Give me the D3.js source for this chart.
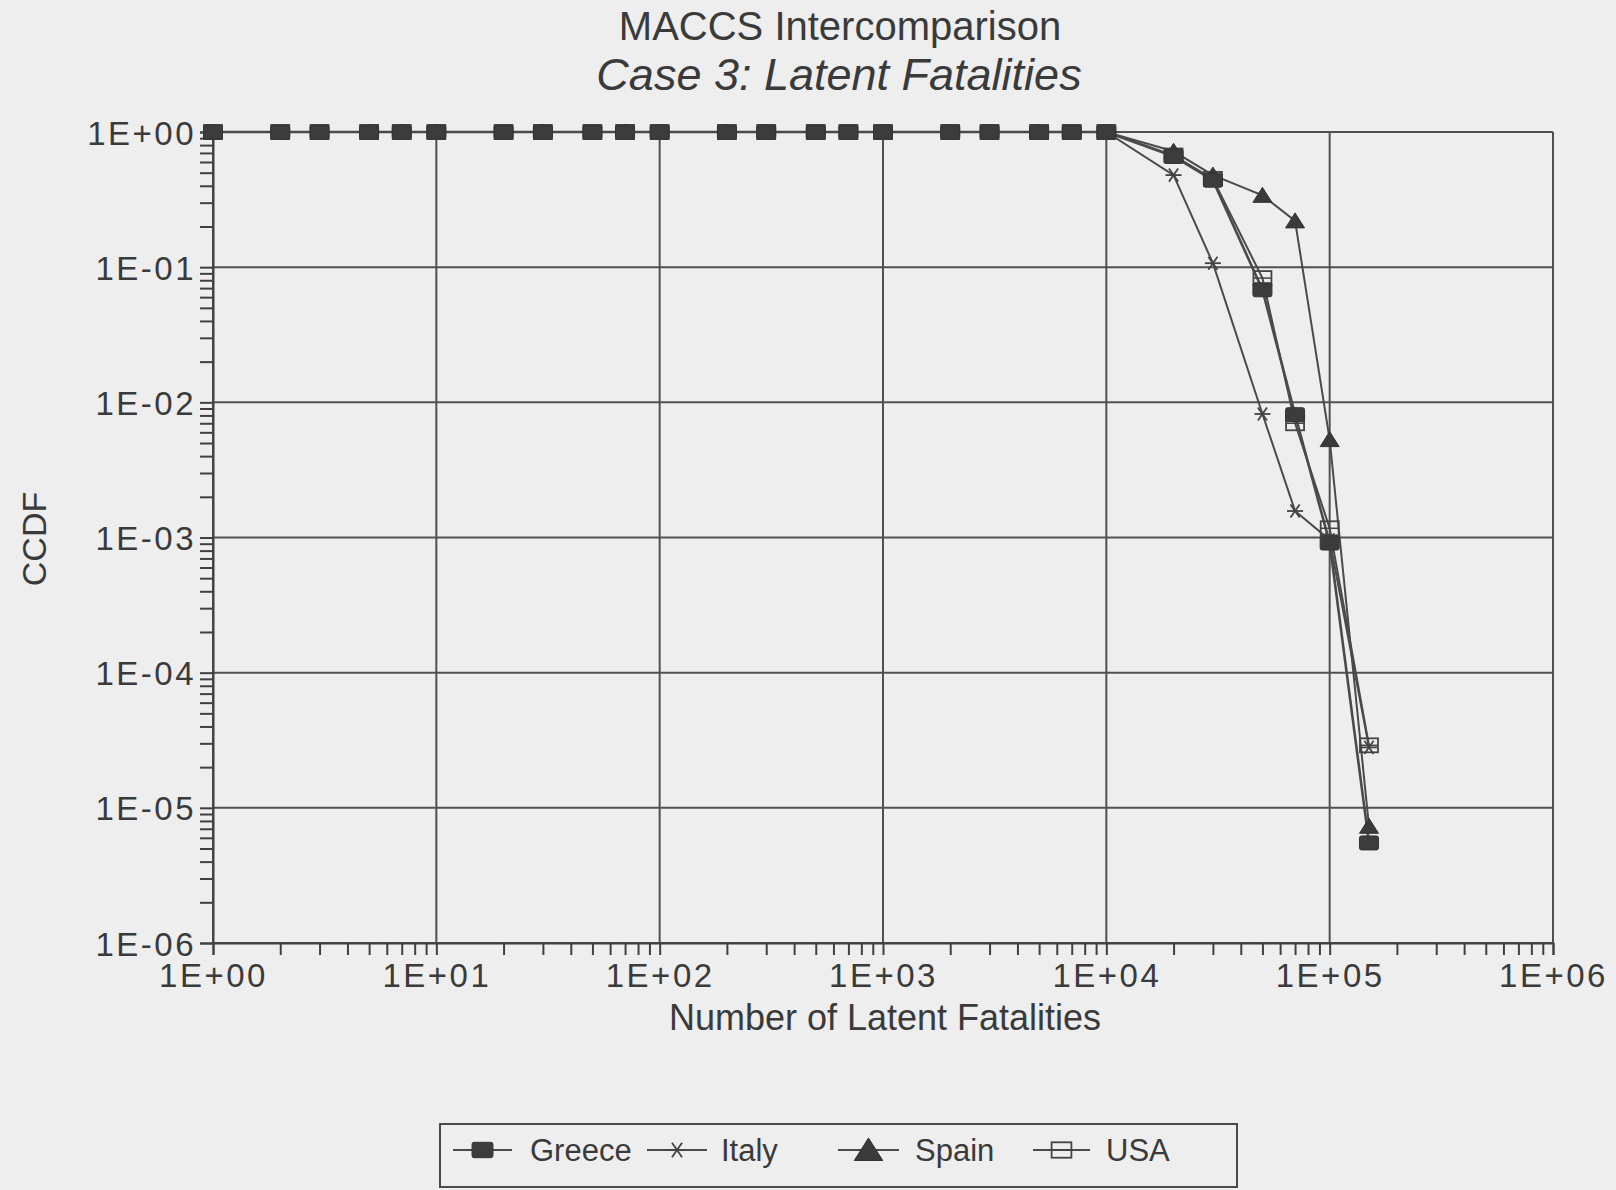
<!DOCTYPE html>
<html>
<head>
<meta charset="utf-8">
<script src="https://cdn.jsdelivr.net/npm/d3@7"></script>
<style>
  html, body { margin: 0; padding: 0; background: #eeeeee; }
  svg { display: block; }
  text { font-family: "Liberation Sans", Arial, Helvetica, sans-serif; fill: #3a3a3a; }
</style>
</head>
<body>
<svg id="chart" width="1616" height="1190"></svg>
<script>
// Number of latent fatalities (x) at which the CCDF was evaluated
const fatalities = [1, 2, 3, 5, 7, 10, 20, 30, 50, 70, 100, 200, 300, 500, 700,
  1000, 2000, 3000, 5000, 7000, 10000, 20000, 30000, 50000, 70000, 100000, 150000];

// CCDF per country
const greece = [1, 1, 1, 1, 1, 1, 1, 1, 1, 1, 1, 1, 1, 1, 1, 1, 1, 1, 1, 1, 1,
  0.66, 0.44, 0.068, 0.0081, 0.00091, 5.5e-6];
const italy = [1, 1, 1, 1, 1, 1, 1, 1, 1, 1, 1, 1, 1, 1, 1, 1, 1, 1, 1, 1, 1,
  0.48, 0.107, 0.0082, 0.00157, 0.00096, 2.8e-5];
const spain = [1, 1, 1, 1, 1, 1, 1, 1, 1, 1, 1, 1, 1, 1, 1, 1, 1, 1, 1, 1, 1,
  0.72, 0.48, 0.34, 0.22, 0.0053, 7.3e-6];
const usa = [1, 1, 1, 1, 1, 1, 1, 1, 1, 1, 1, 1, 1, 1, 1, 1, 1, 1, 1, 1, 1,
  0.67, 0.45, 0.083, 0.0070, 0.00117, 2.9e-5];

const seriesNames = ["Greece", "Italy", "Spain", "USA"];

// Axis decades and their labels
const xDecades = [1, 10, 100, 1000, 10000, 100000, 1000000];
const xTickLabels = ["1E+00", "1E+01", "1E+02", "1E+03", "1E+04", "1E+05", "1E+06"];
const yDecades = [1, 0.1, 0.01, 0.001, 1e-4, 1e-5, 1e-6];
const yTickLabels = ["1E+00", "1E-01", "1E-02", "1E-03", "1E-04", "1E-05", "1E-06"];

const ink = "#3a3a3a";
const lineInk = "#4a4a4a";

const svg = d3.select("#chart");
svg.append("rect").attr("width", 1616).attr("height", 1190).attr("fill", "#eeeeee");

const plot = { left: 213, right: 1553, top: 132, bottom: 943 };

const x = d3.scaleLog().domain([1, 1e6]).range([plot.left, plot.right]);
const y = d3.scaleLog().domain([1e-6, 1]).range([plot.bottom, plot.top]);

// Titles
svg.append("text").attr("x", 840).attr("y", 40).attr("text-anchor", "middle")
  .style("font-size", "40px").text("MACCS Intercomparison");
svg.append("text").attr("x", 839).attr("y", 90).attr("text-anchor", "middle")
  .style("font-size", "45px").style("font-style", "italic").text("Case 3: Latent Fatalities");

// Grid lines at every decade
const grid = svg.append("g");
grid.selectAll("line.h").data(yDecades).join("line")
  .attr("x1", plot.left).attr("x2", plot.right)
  .attr("y1", d => y(d)).attr("y2", d => y(d))
  .attr("stroke", "#505050").attr("stroke-width", 2);
grid.selectAll("line.v").data(xDecades).join("line")
  .attr("y1", plot.top).attr("y2", plot.bottom)
  .attr("x1", d => x(d)).attr("x2", d => x(d))
  .attr("stroke", "#505050").attr("stroke-width", 2);

// Axes with minor ticks
function decadeLabel(decades, labels) {
  return d => {
    const i = decades.findIndex(v => Math.abs(Math.log10(v) - Math.log10(d)) < 1e-9);
    return i >= 0 ? labels[i] : "";
  };
}
const xAllTicks = x.ticks();
const yAllTicks = y.ticks();

const xAxis = svg.append("g").attr("transform", `translate(0,${plot.bottom})`)
  .call(d3.axisBottom(x).tickValues(xAllTicks).tickSize(12).tickPadding(8)
    .tickFormat(decadeLabel(xDecades, xTickLabels)));
const yAxis = svg.append("g").attr("transform", `translate(${plot.left},0)`)
  .call(d3.axisLeft(y).tickValues(yAllTicks).tickSize(13).tickPadding(5)
    .tickFormat(decadeLabel(yDecades, yTickLabels)));

[xAxis, yAxis].forEach(a => {
  a.select(".domain").attr("stroke", "#404040").attr("stroke-width", 2);
  a.selectAll(".tick line").attr("stroke", "#404040").attr("stroke-width", 2);
  a.selectAll(".tick text").attr("fill", ink).style("font-size", "33px")
    .style("font-family", "'Liberation Sans', Arial, sans-serif")
    .style("letter-spacing", "2.5px");
});
xAxis.selectAll(".tick text").attr("dy", null).attr("y", 44);
yAxis.selectAll(".tick text").attr("dy", null).attr("y", 12).attr("x", -17);

// Axis titles
svg.append("text").attr("x", 885).attr("y", 1030).attr("text-anchor", "middle")
  .style("font-size", "36px").text("Number of Latent Fatalities");
svg.append("text").attr("transform", "translate(46,539) rotate(-90)")
  .attr("text-anchor", "middle").style("font-size", "34px").text("CCDF");

// Marker drawing helpers
function drawMarker(g, name, cx, cy, s) {
  if (name === "Greece") {
    g.append("rect").attr("x", cx - 9.5 * s).attr("y", cy - 7 * s)
      .attr("width", 19 * s).attr("height", 14 * s).attr("rx", 2)
      .attr("fill", "#3c3c3c").attr("stroke", "#333").attr("stroke-width", 1);
  } else if (name === "Italy") {
    const r = 8 * s;
    [0, 55, -55].forEach(a => {
      const rad = a * Math.PI / 180;
      g.append("line")
        .attr("x1", cx - r * Math.cos(rad)).attr("y1", cy - r * Math.sin(rad))
        .attr("x2", cx + r * Math.cos(rad)).attr("y2", cy + r * Math.sin(rad))
        .attr("stroke", "#444").attr("stroke-width", 1.8);
    });
  } else if (name === "Spain") {
    g.append("path")
      .attr("d", `M${cx},${cy - 8 * s}L${cx + 9.5 * s},${cy + 7 * s}L${cx - 9.5 * s},${cy + 7 * s}Z`)
      .attr("fill", "#3a3a3a").attr("stroke", "#333").attr("stroke-width", 1);
  } else {
    g.append("rect").attr("x", cx - 9 * s).attr("y", cy - 7 * s)
      .attr("width", 18 * s).attr("height", 14 * s)
      .attr("fill", "none").attr("stroke", "#444").attr("stroke-width", 1.8);
    g.append("line").attr("x1", cx - 9 * s).attr("x2", cx + 9 * s)
      .attr("y1", cy).attr("y2", cy).attr("stroke", "#444").attr("stroke-width", 1.5);
  }
}

const seriesData = { Greece: greece, Italy: italy, Spain: spain, USA: usa };
const lineWidth = { Greece: 2.6, Italy: 2, Spain: 2, USA: 2 };

const line = d3.line().x(d => x(d[0])).y(d => y(d[1]));

// Draw lowest layer first so Greece ends on top
const drawOrder = ["USA", "Italy", "Spain", "Greece"];
const seriesG = svg.append("g");
drawOrder.forEach(name => {
  const pts = fatalities.map((f, i) => [f, seriesData[name][i]]);
  seriesG.append("path").datum(pts).attr("d", line)
    .attr("fill", "none").attr("stroke", lineInk).attr("stroke-width", lineWidth[name]);
});
drawOrder.forEach(name => {
  const g = seriesG.append("g");
  fatalities.forEach((f, i) => drawMarker(g, name, x(f), y(seriesData[name][i]), 1));
});

// Legend
const legend = svg.append("g");
legend.append("rect").attr("x", 440).attr("y", 1124).attr("width", 797).attr("height", 63)
  .attr("fill", "none").attr("stroke", "#4a4a4a").attr("stroke-width", 2);
const legendItems = [
  { name: "Greece", x1: 453, x2: 512, tx: 530 },
  { name: "Italy", x1: 647, x2: 707, tx: 721 },
  { name: "Spain", x1: 838, x2: 899, tx: 915 },
  { name: "USA", x1: 1033, x2: 1090, tx: 1106 }
];
legendItems.forEach(it => {
  const ly = 1150;
  legend.append("line").attr("x1", it.x1).attr("x2", it.x2).attr("y1", ly).attr("y2", ly)
    .attr("stroke", lineInk).attr("stroke-width", 2);
  drawMarker(legend, it.name, (it.x1 + it.x2) / 2, ly, it.name === "Spain" ? 1.5 : 1.1);
  legend.append("text").attr("x", it.tx).attr("y", 1161).style("font-size", "31px").text(it.name);
});
</script>
</body>
</html>
